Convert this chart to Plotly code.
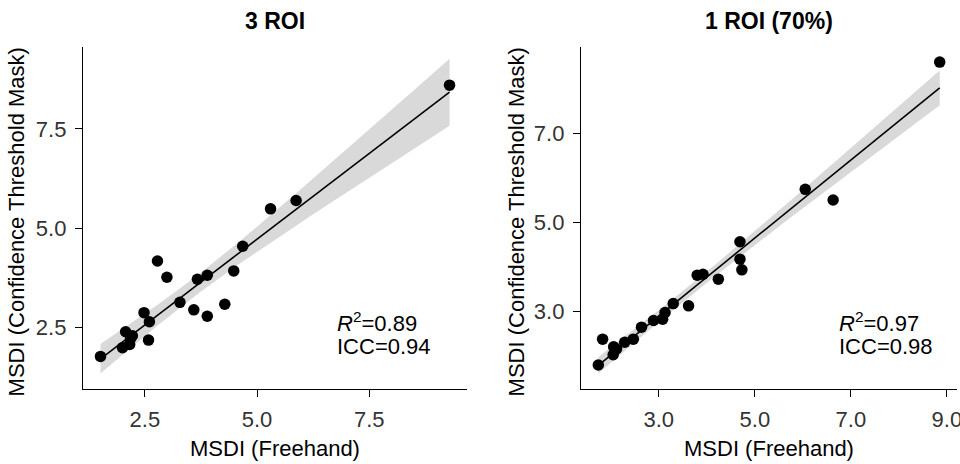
import numpy as np
import plotly.graph_objects as go
from plotly.subplots import make_subplots

# ---- data ----
roi3_freehand = [1.51, 2.00, 2.07, 2.18, 2.16, 2.22, 2.48, 2.60, 2.58, 2.78, 2.99, 3.28,
                 3.59, 3.67, 3.89, 3.89, 4.28, 4.48, 4.68, 5.30, 5.87, 9.29]
roi3_mask = [1.78, 2.00, 2.40, 2.23, 2.08, 2.30, 2.88, 2.65, 2.19, 4.18, 3.77, 3.14,
             2.95, 3.72, 3.82, 2.79, 3.09, 3.93, 4.55, 5.49, 5.70, 8.60]

roi1_freehand = [1.74, 1.83, 2.05, 2.12, 2.06, 2.29, 2.47, 2.64, 2.89, 3.08, 3.13, 3.30,
                 3.62, 3.80, 3.92, 4.24, 4.69, 4.69, 4.73, 6.05, 6.63, 8.85]
roi1_mask = [1.80, 2.38, 2.03, 2.16, 2.21, 2.31, 2.38, 2.65, 2.80, 2.83, 2.98, 3.18,
             3.13, 3.82, 3.84, 3.73, 4.57, 4.18, 3.94, 5.75, 5.51, 8.61]

panel_titles = ["3 ROI", "1 ROI (70%)"]
stats_text = [("0.89", "0.94"), ("0.97", "0.98")]
x_ticks = [[2.5, 5.0, 7.5], [3.0, 5.0, 7.0, 9.0]]
y_ticks = [[2.5, 5.0, 7.5], [3.0, 5.0, 7.0]]
x_title = "MSDI (Freehand)"
y_title = "MSDI (Confidence Threshold Mask)"

T975 = 2.086  # t quantile, df = n - 2 = 20

FONT = "Liberation Sans, Arial, sans-serif"


def fit_band(x, y):
    x = np.asarray(x, float)
    y = np.asarray(y, float)
    n = len(x)
    b1, b0 = np.polyfit(x, y, 1)
    resid = y - (b0 + b1 * x)
    s = np.sqrt(np.sum(resid ** 2) / (n - 2))
    xbar = x.mean()
    sxx = np.sum((x - xbar) ** 2)
    xg = np.linspace(x.min(), x.max(), 100)
    yg = b0 + b1 * xg
    se = s * np.sqrt(1.0 / n + (xg - xbar) ** 2 / sxx)
    return xg, yg, yg - T975 * se, yg + T975 * se


fig = make_subplots(rows=1, cols=2, horizontal_spacing=0.13)

datasets = [(roi3_freehand, roi3_mask), (roi1_freehand, roi1_mask)]
for i, (xv, yv) in enumerate(datasets):
    col = i + 1
    xg, yg, lo, hi = fit_band(xv, yv)
    fig.add_trace(go.Scatter(x=np.concatenate([xg, xg[::-1]]),
                             y=np.concatenate([hi, lo[::-1]]),
                             fill="toself", fillcolor="rgb(217,217,217)",
                             line=dict(width=0), mode="lines",
                             hoverinfo="skip", showlegend=False), row=1, col=col)
    fig.add_trace(go.Scatter(x=xg, y=yg, mode="lines",
                             line=dict(color="black", width=1.6),
                             showlegend=False), row=1, col=col)
    fig.add_trace(go.Scatter(x=xv, y=yv, mode="markers",
                             marker=dict(color="black", size=11.5),
                             showlegend=False), row=1, col=col)

# domains in paper coords (margins l=83, r=3 -> width 874)
fig.update_xaxes(domain=[0.0, 0.4394], row=1, col=1)
fig.update_xaxes(domain=[0.5698, 1.0], row=1, col=2)

axis_common = dict(showline=True, linecolor="black", linewidth=1.4, ticks="outside",
                   ticklen=7, tickwidth=1.4, tickcolor="black", showgrid=False,
                   zeroline=False, tickformat=".1f", automargin=False,
                   ticklabeloverflow="allow",
                   tickfont=dict(family=FONT, size=22, color="#333333"))

fig.update_xaxes(**axis_common, ticklabelstandoff=3)
fig.update_yaxes(**axis_common, ticklabelstandoff=4)

fig.update_xaxes(range=[1.12, 9.68], tickvals=x_ticks[0], row=1, col=1)
fig.update_yaxes(range=[0.96, 9.56], tickvals=y_ticks[0], row=1, col=1)
fig.update_xaxes(range=[1.38, 9.21], tickvals=x_ticks[1], row=1, col=2)
fig.update_yaxes(range=[1.26, 8.95], tickvals=y_ticks[1], row=1, col=2)

annotations = []
centers = [(0.0 + 0.4394) / 2, (0.5698 + 1.0) / 2]
ytitle_x = [-0.0767, 0.4954]
stat_x = [0.2883, 0.8627]
for i in range(2):
    annotations.append(dict(text="<b>%s</b>" % panel_titles[i], x=centers[i], y=1.076,
                            xref="paper", yref="paper", showarrow=False,
                            xanchor="center", yanchor="middle",
                            font=dict(family=FONT, size=23, color="black")))
    annotations.append(dict(text=x_title, x=centers[i], y=-0.175,
                            xref="paper", yref="paper", showarrow=False,
                            xanchor="center", yanchor="middle",
                            font=dict(family=FONT, size=22, color="black")))
    annotations.append(dict(text=y_title, x=ytitle_x[i], y=0.49, textangle=-90,
                            xref="paper", yref="paper", showarrow=False,
                            xanchor="center", yanchor="middle",
                            font=dict(family=FONT, size=22, color="black")))
    annotations.append(dict(text="<i>R</i><sup>2</sup>=%s" % stats_text[i][0],
                            x=stat_x[i], y=0.196, xref="paper", yref="paper",
                            showarrow=False, xanchor="left", yanchor="middle",
                            font=dict(family=FONT, size=22, color="black")))
    annotations.append(dict(text="ICC=%s" % stats_text[i][1],
                            x=stat_x[i], y=0.1257, xref="paper", yref="paper",
                            showarrow=False, xanchor="left", yanchor="middle",
                            font=dict(family=FONT, size=22, color="black")))

fig.update_layout(width=960, height=464, margin=dict(l=83, r=3, t=47, b=75),
                  plot_bgcolor="white", paper_bgcolor="white",
                  annotations=annotations, showlegend=False)

fig.write_html("out.html", config={"displayModeBar": False},
               post_script="document.body.style.margin='0';"
                           "document.body.style.overflow='hidden';")
